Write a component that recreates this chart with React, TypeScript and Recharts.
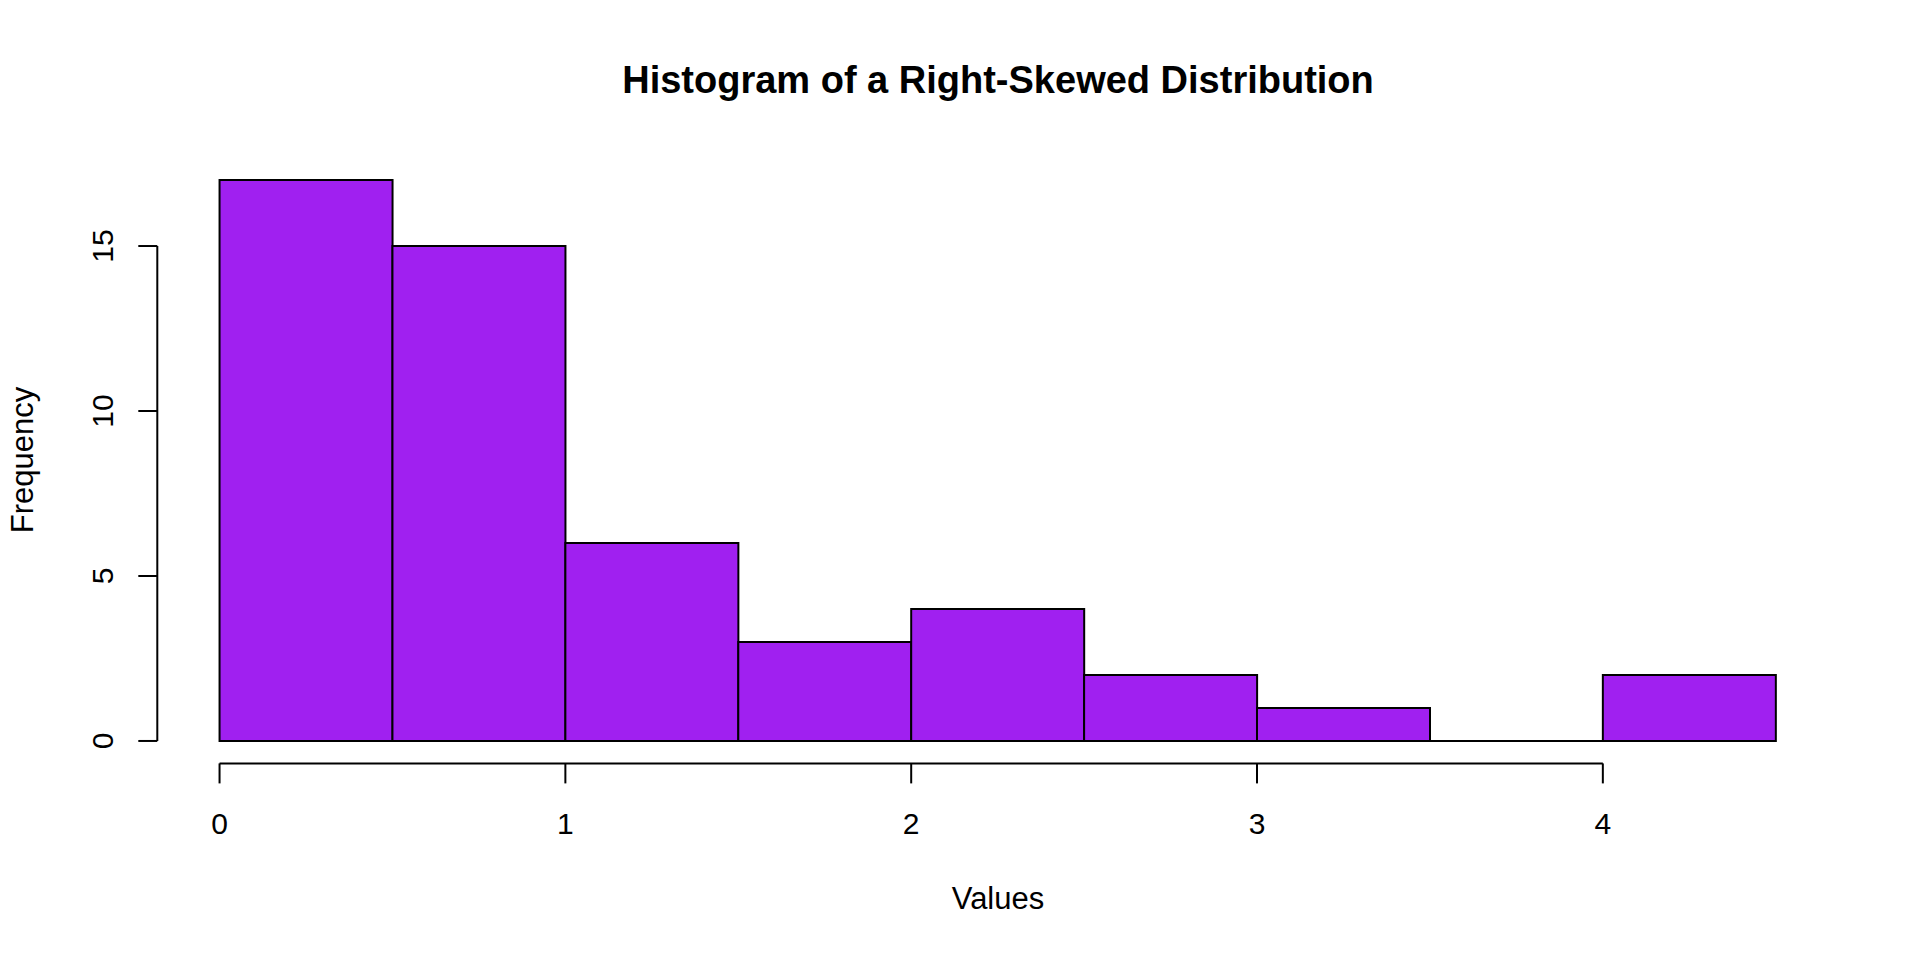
import { ComposedChart, Bar, XAxis, YAxis, ReferenceLine } from "recharts";

// histogram bins (left edges), bin width and counts
const binStarts = [0, 0.5, 1, 1.5, 2, 2.5, 3, 3.5, 4];
const binWidth = 0.5;
const counts = [17, 15, 6, 3, 4, 2, 1, 0, 2];
const xTicks = [0, 1, 2, 3, 4];
const yTicks = [0, 5, 10, 15];

const FONT = '"Liberation Sans", Arial, sans-serif';
const PURPLE = "#A020F0";

// base-R style 4% padding on each side
const xLo = binStarts[0];
const xHi = binStarts[binStarts.length - 1] + binWidth;
const xPad = (xHi - xLo) * 0.04;
const yHi = Math.max(...counts);
const yPad = yHi * 0.04;
const xDomain = [xLo - xPad, xHi + xPad];
const yDomain = [0 - yPad, yHi + yPad];

const rows = binStarts.map((s, i) => ({ mid: s + binWidth / 2, count: counts[i] }));

const HistRect = (props: any) => {
  const { x, y, width, height } = props;
  return (
    <path
      d={`M${x},${y}h${width}v${height}h${-width}Z`}
      fill={PURPLE}
      stroke="#000"
      strokeWidth={2}
    />
  );
};

const XTick = ({ x, y, payload }: any) => (
  <text x={x} y={y + 51} textAnchor="middle" fontSize={30} fontFamily={FONT} fill="#000">
    {payload.value}
  </text>
);

const YTick = ({ x, y, payload }: any) => (
  <text
    x={x - 25}
    y={y}
    transform={`rotate(-90 ${x - 25} ${y})`}
    textAnchor="middle"
    fontSize={30}
    fontFamily={FONT}
    fill="#000"
  >
    {payload.value}
  </text>
);

export default function App() {
  return (
    <div style={{ position: "absolute", left: 0, top: 0, width: 1920, height: 960, background: "#fff" }}>
      <ComposedChart
        width={1920}
        height={960}
        data={rows}
        margin={{ top: 157.6, right: 82, left: 57.3, bottom: 96.6 }}
        barCategoryGap={0}
        barGap={0}
      >
        <XAxis
          type="number"
          dataKey="mid"
          domain={xDomain}
          allowDataOverflow
          ticks={xTicks}
          interval={0}
          height={100}
          axisLine={false}
          tickLine={{ stroke: "#000", strokeWidth: 2 }}
          tickSize={20}
          tickMargin={0}
          tick={<XTick />}
        />
        <YAxis
          type="number"
          domain={yDomain}
          allowDataOverflow
          ticks={yTicks}
          interval={0}
          width={100}
          axisLine={false}
          tickLine={{ stroke: "#000", strokeWidth: 2 }}
          tickSize={19}
          tickMargin={0}
          tick={<YTick />}
        />
        <Bar dataKey="count" shape={<HistRect />} isAnimationActive={false} />
        <ReferenceLine
          segment={[
            { x: xTicks[0], y: yDomain[0] },
            { x: xTicks[xTicks.length - 1], y: yDomain[0] },
          ]}
          stroke="#000"
          strokeWidth={2}
          ifOverflow="visible"
        />
        <ReferenceLine
          segment={[
            { x: xDomain[0], y: yTicks[0] },
            { x: xDomain[0], y: yTicks[yTicks.length - 1] },
          ]}
          stroke="#000"
          strokeWidth={2}
          ifOverflow="visible"
        />
        <text x={998} y={93} textAnchor="middle" fontSize={38} fontWeight="bold" fontFamily={FONT} fill="#000">
          Histogram of a Right-Skewed Distribution
        </text>
        <text x={998} y={909} textAnchor="middle" fontSize={31} fontFamily={FONT} fill="#000">
          Values
        </text>
        <text
          x={33}
          y={460}
          transform="rotate(-90 33 460)"
          textAnchor="middle"
          fontSize={31}
          fontFamily={FONT}
          fill="#000"
        >
          Frequency
        </text>
      </ComposedChart>
    </div>
  );
}
